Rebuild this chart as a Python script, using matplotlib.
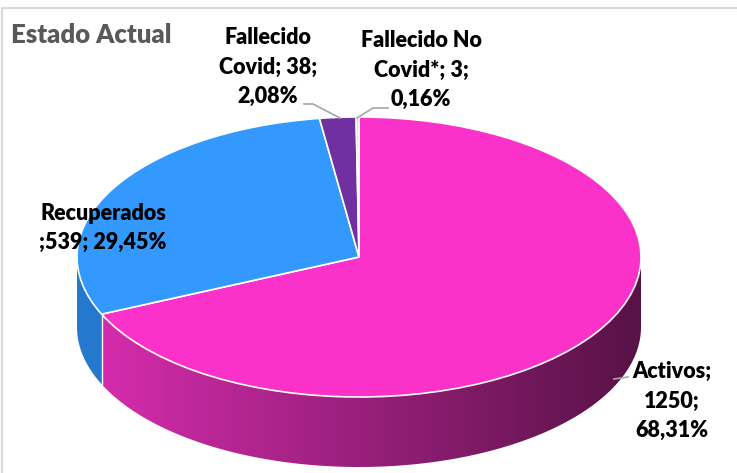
import numpy as np
import matplotlib.pyplot as plt
from matplotlib.patches import Polygon

# datos del gráfico
categorias = ["Activos", "Recuperados", "Fallecido Covid", "Fallecido No Covid*"]
casos = [1250, 539, 38, 3]
porcentajes = ["68,31%", "29,45%", "2,08%", "0,16%"]
colores = ["#FB32C9", "#3399FF", "#7030A0", "#FFD966"]
etiquetas = [
    "Activos;\n1250;\n68,31%",
    "Recuperados\n;539; 29,45%",
    "Fallecido\nCovid; 38;\n2,08%",
    "Fallecido No\nCovid*; 3;\n0,16%",
]

plt.rcParams["font.family"] = ["Lato", "DejaVu Sans"]

W, H = 737, 473
cx, cy = 359, 257      # centro del pastel (pixeles)
rx, ry = 282, 140      # semiejes de la elipse
prof = 70              # grosor del pastel


def px(x, y):
    # pixeles de la imagen -> coordenadas del eje
    return (x - cx) / rx, (cy - y) / ry


fig = plt.figure(figsize=(W / 100, H / 100), dpi=100)
ax = fig.add_axes([0, 0, 1, 1])

wedges, _ = ax.pie(casos, colors=colores, startangle=90, counterclock=False, radius=1,
                   wedgeprops=dict(edgecolor="white", linewidth=1.2, zorder=5))

# lateral del pastel (efecto 3D)
d = prof / ry
t = np.linspace(np.pi, 2 * np.pi, 300)
abajo = np.column_stack([np.cos(t), np.sin(t) - d])
arriba = np.column_stack([np.cos(t[::-1]), np.sin(t[::-1])])
lateral = Polygon(np.vstack([abajo, arriba]), closed=True, facecolor="none", edgecolor="none")
ax.add_patch(lateral)

fin_activos = np.deg2rad(90 - 360 * casos[0] / sum(casos))
xb = np.cos(fin_activos)
xs = np.linspace(-1, 1, 400)
izq = np.array([212, 44, 172]) / 255
der = np.array([88, 18, 70]) / 255
f = ((xs - xb) / (1 - xb)).clip(0, 1)[:, None]
grad = izq * (1 - f) + der * f
grad[xs < xb] = np.array([38, 120, 205]) / 255
img = ax.imshow(grad[None, :, :], extent=[-1, 1, -1 - d, 0], aspect="auto", zorder=2)
img.set_clip_path(lateral)
ax.plot([xb, xb], [np.sin(fin_activos), np.sin(fin_activos) - d], color="white", lw=1, zorder=3)

ax.set_aspect("auto")
ax.set_xlim(-cx / rx, (W - cx) / rx)
ax.set_ylim(-(H - cy) / ry, cy / ry)
ax.axis("off")

# marco
ax.plot(*zip(px(2, 473), px(2, 8), px(737, 8)), color="#D9D9D9", lw=1.5, zorder=1)

# líneas guía
gris = "#A6A6A6"
ax.plot(*zip(px(304, 104), px(313, 104), px(340, 118)), color=gris, lw=1.2, zorder=6)
ax.plot(*zip(px(357, 118), px(373, 108), px(388, 108)), color=gris, lw=1.2, zorder=6)
ax.plot(*zip(px(614, 379), px(628, 377)), color=gris, lw=1.2, zorder=6)

# textos
ax.text(*px(11, 35), "Estado Actual", ha="left", va="center", fontsize=18.5,
        fontweight="heavy", color="#595959")
pos = [(672, 401), (103, 228), (268, 67), (421, 70)]
for (x, y), txt in zip(pos, etiquetas):
    ax.text(*px(x, y), txt, ha="center", va="center", fontsize=15.5, fontweight="heavy",
            color="black", linespacing=1.5, zorder=7)

plt.savefig("out.png", dpi=100)
